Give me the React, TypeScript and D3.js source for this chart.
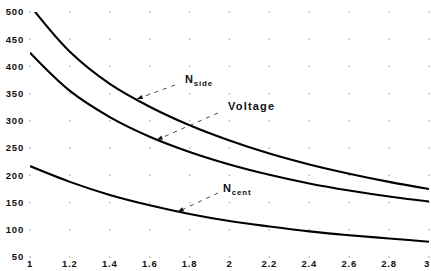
import React from "react";
import * as d3 from "d3";

const xValues = [1, 1.2, 1.4, 1.6, 1.8, 2, 2.2, 2.4, 2.6, 2.8, 3];
const nSide = [512, 427, 368, 326, 292, 264, 240, 220, 203, 188, 175];
const voltage = [425, 355, 307, 271, 243, 220, 201, 185, 172, 161, 152];
const nCent = [217, 188, 164, 145, 129, 116, 106, 97, 90, 84, 78];
const xTicks = [1, 1.2, 1.4, 1.6, 1.8, 2, 2.2, 2.4, 2.6, 2.8, 3];
const xTickLabels = ["1", "1.2", "1.4", "1.6", "1.8", "2", "2.2", "2.4", "2.6", "2.8", "3"];
const yTicks = [50, 100, 150, 200, 250, 300, 350, 400, 450, 500];

const W = 431;
const H = 271;

export default function App() {
  const x = d3.scaleLinear().domain([1, 3]).range([30, 429]);
  const y = d3.scaleLinear().domain([50, 500]).range([257, 12]);
  const line = d3
    .line<number>()
    .x((_, i) => x(xValues[i]))
    .y((d) => y(d))
    .curve(d3.curveCatmullRom.alpha(0.5));

  const font = "'Liberation Sans', Arial, Helvetica, sans-serif";
  const series = [nSide, voltage, nCent];

  const arrow = (x1: number, y1: number, x2: number, y2: number, key: string) => {
    const ang = Math.atan2(y2 - y1, x2 - x1);
    const len = 6;
    const w = 2.2;
    const bx = x2 - len * Math.cos(ang);
    const by = y2 - len * Math.sin(ang);
    const px = -Math.sin(ang) * w;
    const py = Math.cos(ang) * w;
    return (
      <g key={key}>
        <line x1={x1} y1={y1} x2={bx} y2={by} stroke="#333" strokeWidth={0.9} strokeDasharray="4,5" />
        <path d={`M${x2},${y2}L${bx + px},${by + py}L${bx - px},${by - py}Z`} fill="#111" />
      </g>
    );
  };

  return (
    <svg
      width={W}
      height={H}
      style={{ position: "absolute", left: 0, top: 0, background: "#fff" }}
    >
      <defs>
        <clipPath id="plot">
          <rect x={30} y={y(500)} width={400} height={y(50) - y(500)} />
        </clipPath>
      </defs>
      <rect width={W} height={H} fill="#fff" />
      {xTicks.map((xt) =>
        yTicks.map((yt) => (
          <rect
            key={`g${xt}-${yt}`}
            x={x(xt) - 0.7}
            y={y(yt) - 0.7}
            width={1.4}
            height={1.4}
            fill="#888"
            opacity={0.7}
          />
        ))
      )}
      {yTicks.map((t) => (
        <text
          key={`y${t}`}
          x={24}
          y={y(t) + 3.3}
          textAnchor="end"
          fontFamily={font}
          fontWeight="bold"
          fontSize={9.5}
          letterSpacing={0.8}
          fill="#111"
        >
          {t}
        </text>
      ))}
      {xTicks.map((t, i) => (
        <text
          key={`x${t}`}
          x={Math.min(x(t), 427)}
          y={267}
          textAnchor="middle"
          fontFamily={font}
          fontWeight="bold"
          fontSize={9.5}
          letterSpacing={0.8}
          fill="#111"
        >
          {xTickLabels[i]}
        </text>
      ))}
      <g clipPath="url(#plot)">
        {series.map((s, i) => (
          <path key={`s${i}`} d={line(s) || ""} fill="none" stroke="#000" strokeWidth={2.1} />
        ))}
      </g>
      {arrow(175, 85, x(1.535), y(340), "a1")}
      {arrow(218, 113, x(1.635), y(265), "a2")}
      {arrow(218, 193, x(1.74), y(133), "a3")}
      <text x={185} y={83} fontFamily={font} fontWeight="bold" fontSize={11} letterSpacing={0.8} fill="#111">
        N<tspan fontSize={8} dy={2.5}>side</tspan>
      </text>
      <text x={228} y={110} fontFamily={font} fontWeight="bold" fontSize={11} letterSpacing={1.2} fill="#111">
        Voltage
      </text>
      <text x={223} y={192} fontFamily={font} fontWeight="bold" fontSize={11} letterSpacing={0.8} fill="#111">
        N<tspan fontSize={8} dy={2.5}>cent</tspan>
      </text>
    </svg>
  );
}
